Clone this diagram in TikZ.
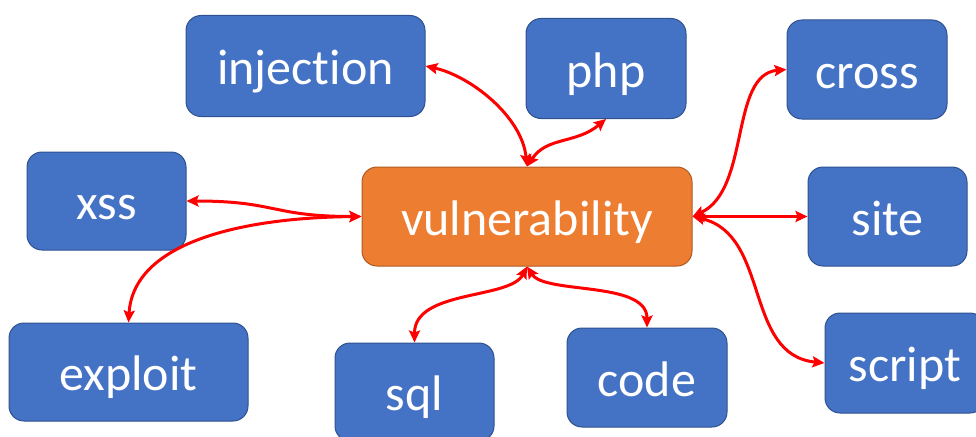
\documentclass[tikz,border=0pt]{standalone}
\usepackage{fontspec}
\setmainfont{Carlito}[Ligatures=NoCommon]
\usetikzlibrary{arrows.meta}

\definecolor{boxblue}{HTML}{4472C4}
\definecolor{boxblueline}{HTML}{2F528F}
\definecolor{hub}{HTML}{ED7D31}
\definecolor{hubline}{HTML}{AE5A21}
\definecolor{linkred}{HTML}{FF0000}

\tikzset{
  term/.style={draw=boxblueline, line width=1pt, fill=boxblue, rounded corners=15pt,
    text=white, font=\fontsize{50}{60}\selectfont, inner sep=0pt, anchor=center,
    text height=40pt, text depth=3pt},
  center term/.style={term, draw=hubline, fill=hub},
  link/.style={draw=linkred, line width=3pt,
    {Stealth[length=12pt,width=11pt,inset=2pt]}-{Stealth[length=12pt,width=11pt,inset=2pt]}},
}

\begin{document}
\begin{tikzpicture}[x=1pt,y=-1pt]
  \useasboundingbox (0,0) rectangle (976,436);
  \clip (0,0) rectangle (976,436);

  % keyword boxes
  \node[center term, minimum width=330pt, minimum height=99pt] (vul) at (527,216.5) {vulnerability};
  \node[term, minimum width=239pt, minimum height=101pt] (inj) at (305.5,66) {injection};
  \node[term, minimum width=160pt, minimum height=100pt] (php) at (606,68.5) {php};
  \node[term, minimum width=160pt, minimum height=99pt] (cross) at (867,69.5) {cross};
  \node[term, minimum width=159pt, minimum height=98pt] (xss) at (106.5,201) {xss};
  \node[term, minimum width=159pt, minimum height=99pt] (site) at (887.5,216.5) {site};
  \node[term, minimum width=239pt, minimum height=98pt] (exploit) at (128.5,372) {exploit};
  \node[term, minimum width=159pt, minimum height=98pt] (sql) at (414.5,392) {sql};
  \node[term, minimum width=160pt, minimum height=99pt] (code) at (647,377.5) {code};
  \node[term, minimum width=160pt, minimum height=100pt] (script) at (905,363) {script};

  % connectors from the central term
  \draw[link] (inj.east) .. controls +(45,10) and +(-5,-50) .. (vul.north);
  \draw[link] (vul.north) .. controls +(20,-30) and +(-30,25) .. (php.south);
  \draw[link] (vul.east) .. controls +(58,-27) and +(-57,5) .. (cross.west);
  \draw[link] (vul.east) -- (site.west);
  \draw[link] (vul.east) .. controls +(78,18) and +(-81,-8) .. (script.west);
  \draw[link] (vul.west) .. controls +(-90,0) and +(90,0) .. (xss.east);
  \draw[link] (vul.west) .. controls +(-112,1) and +(5,-83) .. (exploit.north);
  \draw[link] (vul.south) .. controls +(-17,33) and +(0,-53) .. (sql.north);
  \draw[link] (vul.south) .. controls +(18,28) and +(0,-47) .. (code.north);
\end{tikzpicture}
\end{document}
